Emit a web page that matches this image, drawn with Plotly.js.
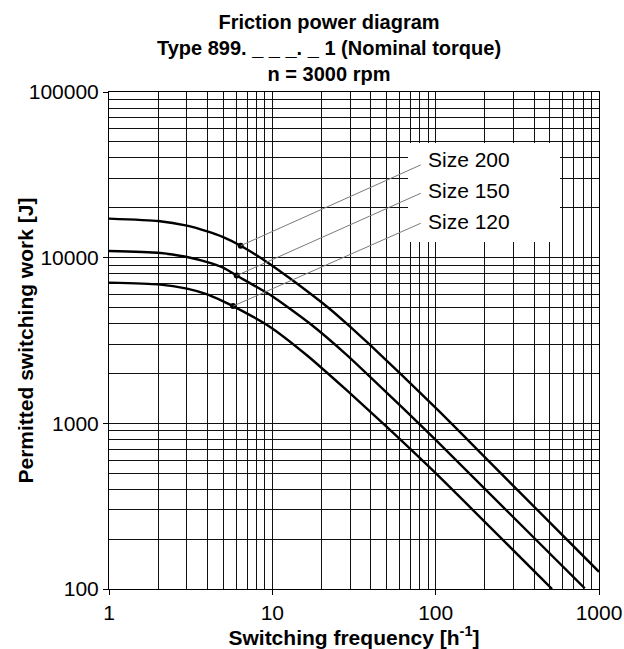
<!DOCTYPE html>
<html><head><meta charset="utf-8">
<script src="https://cdn.plot.ly/plotly-3.0.1.min.js"></script>
<style>html,body{margin:0;padding:0;background:#fff}</style>
</head><body><div id="chart" style="width:624px;height:649px"></div>
<script>
// ---- data ----
const sizeNames = ["Size 200", "Size 150", "Size 120"];

const freq200 = [1, 2, 3, 4, 5, 6.4, 9.2, 12.8, 22.5, 29.8, 39.5, 60.3, 106, 195, 1000];
const work200 = [17200, 16650, 15600, 14400, 13300, 11810, 9460, 7510, 4900, 3845, 2985, 2012, 1174, 640, 127];

const freq150 = [1, 2, 3, 4, 5, 6.05, 10.1, 16.9, 28.4, 52.4, 79.9, 100, 818];
const work150 = [10970, 10700, 10100, 9400, 8700, 7800, 5817, 4018, 2600, 1470, 985, 794, 101];

const freq120 = [1, 2, 3, 4, 5, 5.75, 9.64, 16.2, 28.4, 50, 100, 516];
const work120 = [7070, 6900, 6500, 6000, 5450, 5100, 3834, 2587, 1591, 955, 500, 100];

// leader lines: from a point on each curve to the label block
const markFreq = [6.4, 6.05, 5.75];
const markWork = [11810, 7800, 5100];
const leadFreq = [81, 81, 81];
const leadWork = [36300, 24480, 16130];

const xTickVals = [1, 10, 100, 1000];
const xTickText = ["1", "10", "100", "1000"];
const yTickVals = [100, 1000, 10000, 100000];
const yTickText = ["100", "1000", "10000", "100000"];
const xMinorVals = [2,3,4,5,6,7,8,9,20,30,40,50,60,70,80,90,200,300,400,500,600,700,800,900];
const yMinorVals = [200,300,400,500,600,700,800,900,2000,3000,4000,5000,6000,7000,8000,9000,
                    20000,30000,40000,50000,60000,70000,80000,90000];

// ---- traces ----
const FONT = '"Liberation Sans", Arial, Helvetica, sans-serif';
const curves = [[freq200, work200], [freq150, work150], [freq120, work120]];
const traces = [];
curves.forEach((c, i) => {
  traces.push({
    x: c[0], y: c[1], type: 'scatter', mode: 'lines', name: sizeNames[i],
    line: {color: '#000', width: 2.4, shape: 'spline', smoothing: 0.5},
    showlegend: false, hoverinfo: 'skip'
  });
});
traces.push({
  x: markFreq, y: markWork, type: 'scatter', mode: 'markers',
  marker: {color: '#000', size: 6}, showlegend: false, hoverinfo: 'skip'
});

const L = 109, R = 25, T = 92, B = 60, W = 624, H = 649;
const pw = W - L - R, ph = H - T - B;
const px = v => (v - L) / pw;
const py = v => (H - B - v) / ph;

const labelY = [159, 190, 221.5];
const annotations = sizeNames.map((s, i) => ({
  text: s, xref: 'paper', yref: 'paper', x: px(426), y: py(labelY[i]),
  xanchor: 'left', yanchor: 'middle', showarrow: false,
  font: {family: FONT, size: 21, color: '#000'}
}));
annotations.push({
  text: 'Permitted switching work [J]', xref: 'paper', yref: 'paper',
  x: px(25), y: 0.5, xanchor: 'center', yanchor: 'middle', textangle: -90,
  showarrow: false, font: {family: FONT, size: 21, color: '#000', weight: 'bold'}
});

// white block behind the labels, then the leader lines over it
const shapes = [{
  type: 'rect', xref: 'paper', yref: 'paper', layer: 'above',
  x0: px(408), x1: px(560), y0: py(242), y1: py(143),
  fillcolor: '#fff', line: {width: 0}
}];
for (let i = 0; i < 3; i++) {
  shapes.push({
    type: 'line', xref: 'x', yref: 'y', layer: 'above',
    x0: markFreq[i], y0: markWork[i],
    x1: leadFreq[i], y1: leadWork[i],
    line: {color: '#7a7a7a', width: 1}
  });
}

const axisCommon = {
  type: 'log', showline: true, linecolor: '#000', linewidth: 1, mirror: true,
  ticks: 'outside', ticklen: 5, tickcolor: '#000', tickwidth: 1,
  showgrid: true, gridcolor: '#111', gridwidth: 1, zeroline: false,
  tickfont: {family: FONT, size: 21, color: '#000'}, tickmode: 'array'
};

const layout = {
  width: W, height: H,
  margin: {l: L, r: R, t: T, b: B, pad: 0},
  paper_bgcolor: '#fff', plot_bgcolor: '#fff',
  font: {family: FONT, color: '#000'},
  title: {
    text: 'Friction power diagram<br>Type 899. _ _ _. _ 1 (Nominal torque)<br>n = 3000 rpm',
    xref: 'container', yref: 'container', x: 329 / W, xanchor: 'center',
    y: 1 - 29 / H, yanchor: 'top',
    font: {family: FONT, size: 20, color: '#000', weight: 'bold'}
  },
  xaxis: Object.assign({}, axisCommon, {
    range: [0, 3], tickvals: xTickVals, ticktext: xTickText,
    minor: {tickmode: 'array', tickvals: xMinorVals, showgrid: true, gridcolor: '#111', gridwidth: 1, ticks: ''},
    title: {text: 'Switching frequency [h<sup>-1</sup>]', standoff: 6,
            font: {family: FONT, size: 21, color: '#000', weight: 'bold'}}
  }),
  yaxis: Object.assign({}, axisCommon, {
    range: [2, 5], tickvals: yTickVals, ticktext: yTickText,
    minor: {tickmode: 'array', tickvals: yMinorVals, showgrid: true, gridcolor: '#111', gridwidth: 1, ticks: ''}
  }),
  shapes: shapes,
  annotations: annotations,
  showlegend: false
};

Plotly.newPlot('chart', traces, layout, {staticPlot: true, displayModeBar: false});
</script>
</body></html>
